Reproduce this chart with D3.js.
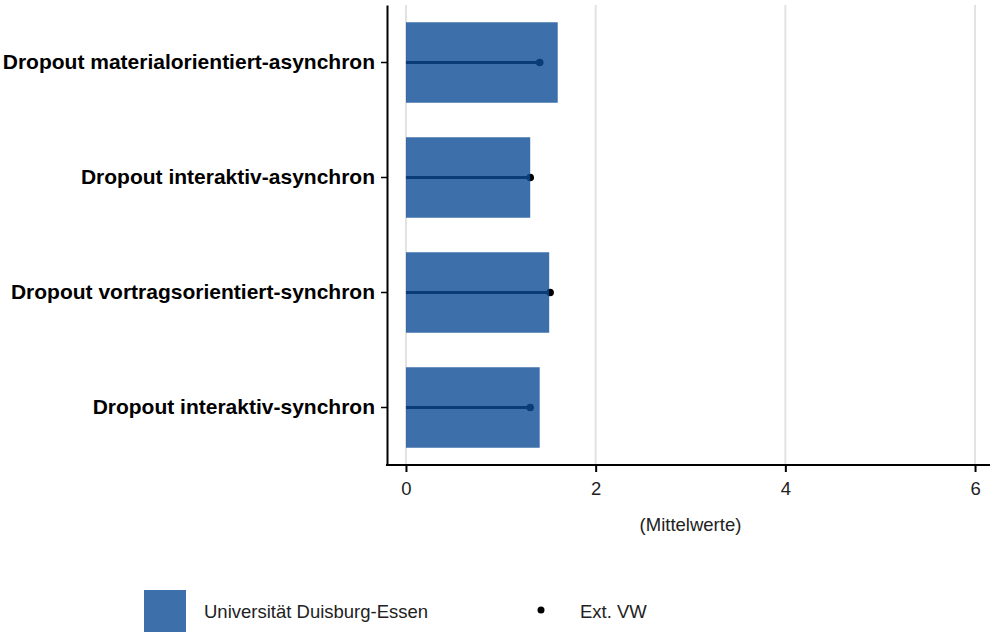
<!DOCTYPE html>
<html>
<head>
<meta charset="utf-8">
<script src="https://cdn.jsdelivr.net/npm/d3@7"></script>
<style>
  body { margin: 0; background: #fff; }
  svg { font-family: "Liberation Sans", Arial, sans-serif; }
</style>
</head>
<body>
<div class="chart-container"></div>
<script>
// Data
const categories = [
    "Dropout materialorientiert-asynchron",
    "Dropout interaktiv-asynchron",
    "Dropout vortragsorientiert-synchron",
    "Dropout interaktiv-synchron"
];
const udeValues = [1.60, 1.31, 1.51, 1.41];   // bars
const extValues = [1.41, 1.31, 1.52, 1.31];   // points
const xTicks = [0, 2, 4, 6];
const legendLabels = ["Universität Duisburg-Essen", "Ext. VW"];

function draw() {
    const width = 994;
    const height = 634;
    const marginTop = 5;
    const marginRight = 0;
    const marginBottom = 169;
    const marginLeft = 387;

    const x = d3.scaleLinear()
        .domain([-0.2, 6.2])
        .range([marginLeft, width - marginRight]);

    const y = d3.scaleBand()
        .domain(categories)
        .range([marginTop, height - marginBottom])
        .paddingInner(0.3)
        .paddingOuter(0.15);

    const svg = d3.select('.chart-container').append("svg")
        .attr("width", width)
        .attr("height", height);

    // grid lines
    svg.append("g")
        .selectAll("line")
        .data(xTicks)
        .join("line")
        .attr("x1", d => x(d))
        .attr("x2", d => x(d))
        .attr("y1", marginTop)
        .attr("y2", height - marginBottom)
        .attr("stroke", "#e3e3e3")
        .attr("stroke-width", 2);

    const rows = categories.map((c, i) => ({ cat: c, bar: udeValues[i], ext: extValues[i] }));

    // Ext. VW: line from 0 plus point (drawn under the translucent bars)
    svg.append("g")
        .selectAll("line")
        .data(rows)
        .join("line")
        .attr("x1", x(0))
        .attr("x2", d => x(d.ext))
        .attr("y1", d => y(d.cat) + y.bandwidth() / 2)
        .attr("y2", d => y(d.cat) + y.bandwidth() / 2)
        .attr("stroke", "#000")
        .attr("stroke-width", 3);

    svg.append("g")
        .selectAll("circle")
        .data(rows)
        .join("circle")
        .attr("cx", d => x(d.ext))
        .attr("cy", d => y(d.cat) + y.bandwidth() / 2)
        .attr("r", 3.8)
        .attr("fill", "#000");

    // bars
    svg.append("g")
        .selectAll("rect")
        .data(rows)
        .join("rect")
        .attr("x", x(0))
        .attr("y", d => y(d.cat))
        .attr("width", d => x(d.bar) - x(0))
        .attr("height", y.bandwidth())
        .attr("fill", "#0c4b96")
        .attr("fill-opacity", 0.8);

    // x axis
    const xAxis = svg.append("g")
        .attr("transform", `translate(0,${height - marginBottom})`)
        .call(d3.axisBottom(x).tickValues(xTicks).tickFormat(d3.format("d"))
            .tickSize(7).tickPadding(10).tickSizeOuter(0));
    xAxis.select(".domain").attr("stroke-width", 2).attr("d", `M${marginLeft - 1},0H${width - 4}`);
    xAxis.selectAll(".tick line").attr("stroke-width", 2);
    xAxis.selectAll("text").style("font-size", "18.5px").attr("fill", "#222");

    // y axis
    const yAxis = svg.append("g")
        .attr("transform", `translate(${marginLeft},0)`)
        .call(d3.axisLeft(y).tickSize(6).tickPadding(6).tickSizeOuter(0));
    yAxis.select(".domain").attr("stroke-width", 2);
    yAxis.selectAll(".tick line").attr("stroke-width", 1.5);
    yAxis.selectAll("text")
        .style("font-size", "21px")
        .style("font-weight", "bold")
        .attr("fill", "#000");

    // axis title
    svg.append("text")
        .attr("x", (marginLeft + width) / 2)
        .attr("y", 531)
        .attr("text-anchor", "middle")
        .style("font-size", "18.5px")
        .attr("fill", "#222")
        .text("(Mittelwerte)");

    // legend
    const legend = svg.append("g");
    legend.append("rect")
        .attr("x", 144)
        .attr("y", 590)
        .attr("width", 42)
        .attr("height", 42)
        .attr("fill", "#0c4b96")
        .attr("fill-opacity", 0.8);
    legend.append("text")
        .attr("x", 204)
        .attr("y", 618)
        .style("font-size", "18.5px")
        .attr("fill", "#222")
        .text(legendLabels[0]);
    legend.append("circle")
        .attr("cx", 541)
        .attr("cy", 610)
        .attr("r", 3.5)
        .attr("fill", "#000");
    legend.append("text")
        .attr("x", 580)
        .attr("y", 618)
        .style("font-size", "18.5px")
        .attr("fill", "#222")
        .text(legendLabels[1]);
}

draw();
</script>
</body>
</html>
